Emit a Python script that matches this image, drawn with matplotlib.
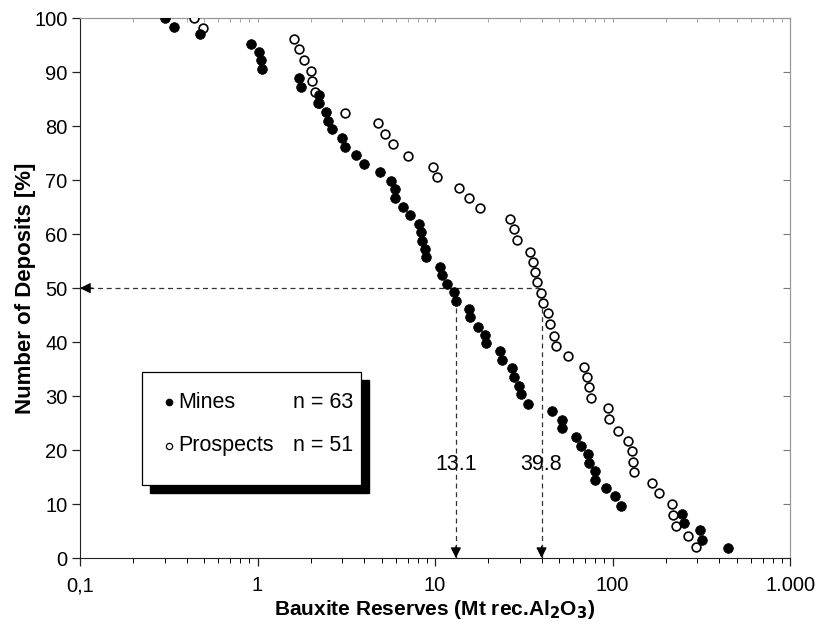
import matplotlib
matplotlib.use('Agg')
import matplotlib.pyplot as plt
from matplotlib.patches import Rectangle
from matplotlib.ticker import FixedLocator, LogLocator, NullFormatter

plt.rcParams['font.family'] = ['Liberation Sans', 'DejaVu Sans']

# cumulative curves
mines_x = [0.303, 0.34, 0.474, 0.916, 1.016, 1.04, 1.06, 1.71, 1.76, 2.21, 2.22,
           2.44, 2.5, 2.64, 2.98, 3.1, 3.6, 3.98, 4.87, 5.67, 5.96, 5.96, 6.6,
           7.2, 8.13, 8.3, 8.49, 8.75, 8.94, 10.6, 10.9, 11.7, 12.8, 13.2, 15.5,
           15.8, 17.4, 19.2, 19.4, 23.2, 23.9, 27.0, 27.7, 29.7, 30.6, 33.6,
           45.4, 51.9, 51.9, 62.5, 66.7, 73.1, 74.0, 79.4, 79.4, 92.3, 103.7,
           111.3, 246.6, 251.8, 312.5, 318.4, 447.7]
mines_y = [100, 98.4, 97.0, 95.3, 93.8, 92.2, 90.6, 88.9, 87.3, 85.8, 84.3, 82.7,
           81.0, 79.5, 77.8, 76.2, 74.7, 73.0, 71.5, 69.9, 68.4, 66.7, 65.0, 63.5,
           61.9, 60.4, 58.8, 57.3, 55.7, 53.9, 52.5, 50.8, 49.3, 47.6, 46.2, 44.6,
           42.8, 41.4, 39.8, 38.3, 36.7, 35.2, 33.5, 31.9, 30.3, 28.6, 27.2, 25.6,
           24.1, 22.5, 20.7, 19.3, 17.6, 16.2, 14.4, 13.0, 11.4, 9.7, 8.2, 6.5,
           5.1, 3.4, 1.9]

prospects_x = [0.437, 0.49, 1.6, 1.71, 1.83, 1.99, 2.03, 2.1, 2.2, 3.09, 4.77,
               5.21, 5.78, 7.08, 9.75, 10.3, 13.7, 15.5, 18.0, 26.5, 27.7, 28.8,
               34.3, 35.8, 36.5, 37.3, 39.7, 40.3, 43.2, 44.7, 46.9, 47.7, 56.4,
               69.4, 71.6, 74.1, 75.7, 94.4, 95.3, 106.9, 122, 128.2, 130, 132,
               167, 182, 216, 218, 227, 265, 294]
prospects_y = [100, 98.1, 96.2, 94.3, 92.3, 90.2, 88.3, 86.3, 84.3, 82.5, 80.5,
               78.6, 76.7, 74.4, 72.5, 70.6, 68.6, 66.7, 64.8, 62.8, 60.9, 59.0,
               56.7, 54.9, 53.0, 51.1, 49.1, 47.2, 45.3, 43.3, 41.2, 39.2, 37.4,
               35.4, 33.5, 31.6, 29.7, 27.7, 25.8, 23.6, 21.7, 19.8, 17.8, 15.9,
               13.9, 12.0, 10.1, 8.0, 6.0, 4.1, 2.1]

median_mines = 13.1
median_prospects = 39.8
x_ticks = [0.1, 1, 10, 100, 1000]
x_tick_labels = ['0,1', '1', '10', '100', '1.000']

fig = plt.figure(figsize=(8.19, 6.27), dpi=100)
ax = fig.add_axes([0.0977, 0.110, 0.867, 0.861])

ax.set_xscale('log')
ax.set_xlim(0.1, 1000)
ax.set_ylim(0, 100)

# dashed median guides
ax.plot([0.1, median_prospects], [50, 50], ls=(0, (4, 3)), color='#333333', lw=0.9, zorder=1)
for m in [median_mines, median_prospects]:
    ax.plot([m, m], [0, 50], ls=(0, (4, 3)), color='#333333', lw=0.9, zorder=1)
    ax.annotate('', xy=(m, 0), xytext=(m, 2.2),
                arrowprops=dict(arrowstyle='-|>', color='black', lw=0.8,
                                mutation_scale=16, shrinkA=0, shrinkB=0))
    ax.text(m, 17.4, '{:.1f}'.format(m), ha='center', va='center', fontsize=15.5)
ax.annotate('', xy=(0.1, 50), xytext=(0.118, 50),
            arrowprops=dict(arrowstyle='-|>', color='black', lw=0.8,
                            mutation_scale=16, shrinkA=0, shrinkB=0))

ax.plot(prospects_x, prospects_y, 'o', ms=6.3, mfc='white', mec='black', mew=1.2, zorder=3)
ax.plot(mines_x, mines_y, 'o', ms=7, mfc='black', mec='black', mew=0.5, zorder=4)

# axes styling
ax.spines['top'].set_color('#999999')
ax.spines['right'].set_color('#999999')
ax.spines['left'].set_color('#222222')
ax.spines['bottom'].set_color('#222222')

ax.xaxis.set_major_locator(FixedLocator(x_ticks))
ax.set_xticklabels(x_tick_labels)
ax.xaxis.set_minor_locator(LogLocator(base=10, subs=range(2, 10)))
ax.xaxis.set_minor_formatter(NullFormatter())
ax.set_yticks(range(0, 101, 10))
ax.tick_params(axis='both', which='major', direction='out', length=6, width=0.9,
               labelsize=14.5, colors='#222222', labelcolor='black')
ax.tick_params(axis='x', which='minor', direction='out', length=3.5, width=0.7)
ax.tick_params(axis='x', pad=7)
ax.tick_params(axis='y', pad=3)

top = ax.secondary_xaxis('top')
top.xaxis.set_major_locator(FixedLocator(x_ticks))
top.xaxis.set_minor_locator(LogLocator(base=10, subs=range(2, 10)))
top.tick_params(which='both', direction='in', length=3, colors='#999999', labeltop=False)
top.spines['top'].set_color('#999999')
right = ax.secondary_yaxis('right')
right.set_yticks(range(0, 101, 10))
right.tick_params(direction='in', length=5, colors='#777777', labelright=False)
right.spines['right'].set_color('#999999')

ax.set_xlabel('Bauxite Reserves (Mt rec.Al$_\\mathbf{2}$O$_\\mathbf{3}$)', fontsize=15,
              fontweight='bold', labelpad=2)
ax.set_ylabel('Number of Deposits [%]', fontsize=16, fontweight='bold', labelpad=-1)

# legend box with drop shadow
bx, by, bw, bh = 0.087, 0.135, 0.309, 0.209
ax.add_patch(Rectangle((bx + 0.011, by - 0.015), bw, bh, transform=ax.transAxes,
                       facecolor='black', edgecolor='black', zorder=5))
ax.add_patch(Rectangle((bx, by), bw, bh, transform=ax.transAxes,
                       facecolor='white', edgecolor='black', lw=0.9, zorder=6))
ax.plot([0.126], [0.289], 'o', ms=4.5, mfc='black', mec='black',
        transform=ax.transAxes, zorder=7)
ax.plot([0.126], [0.208], 'o', ms=4.5, mfc='white', mec='black', mew=0.9,
        transform=ax.transAxes, zorder=7)
ax.text(0.139, 0.289, 'Mines', transform=ax.transAxes, va='center', fontsize=15.5, zorder=7)
ax.text(0.385, 0.289, 'n = 63', transform=ax.transAxes, va='center', ha='right', fontsize=15.5, zorder=7)
ax.text(0.139, 0.208, 'Prospects', transform=ax.transAxes, va='center', fontsize=15.5, zorder=7)
ax.text(0.385, 0.208, 'n = 51', transform=ax.transAxes, va='center', ha='right', fontsize=15.5, zorder=7)

fig.savefig('out.png', dpi=100)
